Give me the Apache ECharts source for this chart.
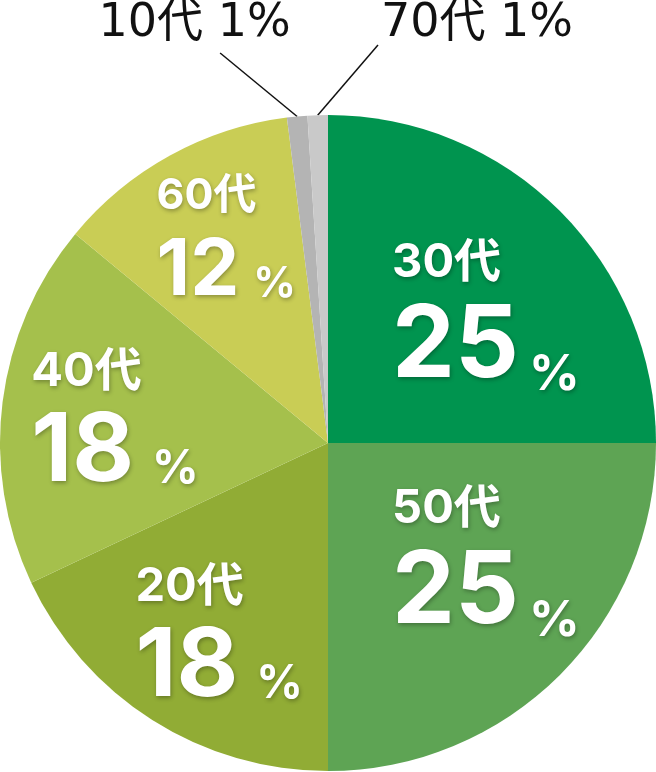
<!DOCTYPE html>
<html>
<head>
<meta charset="utf-8">
<script src="https://cdn.jsdelivr.net/npm/echarts@6/dist/echarts.min.js"></script>
<style>
html,body{margin:0;padding:0;background:#ffffff;}
#chart{width:656px;height:772px;}
</style>
</head>
<body>
<div id="chart"></div>
<script>
// ---- data ----
const categories = ['30代', '50代', '20代', '40代', '60代', '10代', '70代'];
const shares = [25, 25, 18, 18, 12, 1, 1];
const sliceColors = ['#00944f', '#5ea454', '#91ac35', '#a5c04c', '#c9cd55', '#b4b4b4', '#c9c9c9'];
const outsideNames = ['10代', '70代'];

// ---- label styling / placement (not data) ----
const IN_FONT = 'Inter, "Noto Sans CJK JP", sans-serif';
const OUT_FONT = '"DejaVu Sans", "Noto Sans CJK JP", sans-serif';
const sizeGroup = { '30代': 'a', '50代': 'a', '20代': 'b', '40代': 'b', '60代': 'c' };
// shift of the label block's left edge / vertical middle from the default inside anchor
const insideShift = { '30代': [-54, -13], '50代': [-54, -3], '20代': [-103, 31], '40代': [-131, -22], '60代': [-91, -80] };
const outsideGuide = {
  '10代': { line: [-77, -63.5], text: [-25.5, -29] },
  '70代': { line: [60.3, -70.2], text: [99, -21] }
};
const shadow = { textShadowColor: 'rgba(0,0,0,0.3)', textShadowBlur: 4, textShadowOffsetX: 1, textShadowOffsetY: 2 };
function tok(size, lh, extra) {
  return Object.assign({ fontFamily: IN_FONT, fontWeight: 'bold', fontSize: size, lineHeight: lh, color: '#ffffff', align: 'left' }, shadow, extra || {});
}
const rich = {
  na: tok(47, 62), va: tok(100, 106), pa: tok(50, 50, { verticalAlign: 'bottom', padding: [0, 0, 0, 10] }),
  nb: tok(47, 80), vb: tok(95, 80), pb: tok(46, 46, { verticalAlign: 'bottom', padding: [0, 0, 0, 18] }),
  nc: tok(43, 84), vc: tok(78, 67), pc: tok(42, 42, { verticalAlign: 'bottom', padding: [0, 0, 0, 14] })
};

const pieData = categories.map((name, i) => {
  const outside = outsideNames.indexOf(name) >= 0;
  const item = { name: name, value: shares[i], itemStyle: { color: sliceColors[i] } };
  if (outside) {
    item.label = {
      position: 'outside',
      formatter: p => p.name + ' ' + p.value + '%',
      fontFamily: OUT_FONT, fontSize: 46, fontWeight: 'normal', color: '#111111'
    };
    item.labelLine = { show: true, length: 20, length2: 0, smooth: false, lineStyle: { color: '#111111', width: 1.5 } };
  } else {
    const g = sizeGroup[name];
    item.label = {
      position: 'inside',
      formatter: p => '{n' + g + '|' + p.name + '}\n{v' + g + '|' + p.value + '}{p' + g + '|%}'
    };
    item.labelLine = { show: false };
  }
  return item;
});

const chart = echarts.init(document.getElementById('chart'), null, { renderer: 'canvas' });
chart.setOption({
  backgroundColor: '#ffffff',
  animation: false,
  series: [{
    type: 'pie',
    center: [328, 443],
    radius: [0, 328],
    startAngle: 90,
    clockwise: true,
    avoidLabelOverlap: false,
    itemStyle: { borderWidth: 0 },
    emphasis: { disabled: true },
    label: { show: true, rich: rich, color: '#ffffff' },
    labelLayout: function (params) {
      const name = categories[params.dataIndex];
      const lr = params.labelRect;
      if (outsideGuide[name] && params.labelLinePoints) {
        const cfg = outsideGuide[name];
        const s = params.labelLinePoints[0];
        const e = [s[0] + cfg.line[0], s[1] + cfg.line[1]];
        return {
          x: e[0] + cfg.text[0], y: e[1] + cfg.text[1],
          align: 'center', verticalAlign: 'middle',
          labelLinePoints: [s, e, e]
        };
      }
      const sh = insideShift[name];
      if (sh) {
        return {
          x: lr.x + lr.width / 2 + sh[0],
          y: lr.y + lr.height / 2 + sh[1],
          align: 'left', verticalAlign: 'middle'
        };
      }
      return {};
    },
    data: pieData
  }]
});
</script>
</body>
</html>
